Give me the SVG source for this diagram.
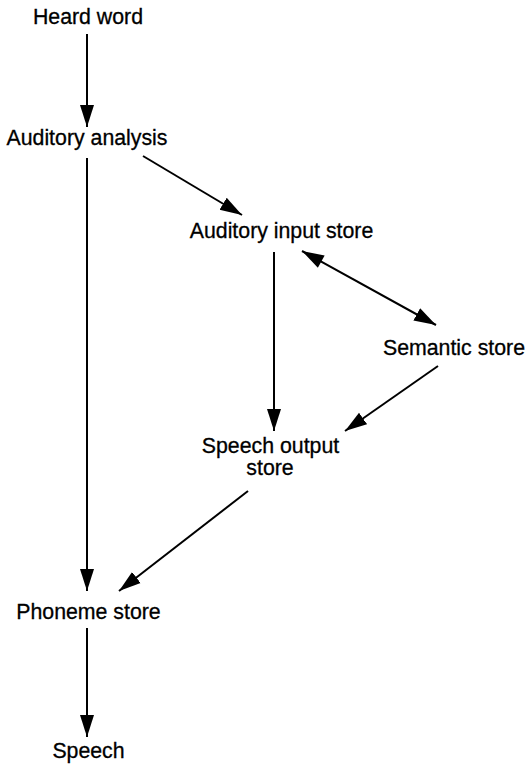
<svg xmlns="http://www.w3.org/2000/svg" width="528" height="764" viewBox="0 0 528 764">
<style>
  text { font-family: "Liberation Sans", Arial, sans-serif; font-size: 21.3px; fill: #000; stroke: #000; stroke-width: 0.3; text-anchor: middle; }
  .edge { stroke: #000; stroke-width: 2; fill: none; }
</style>
<defs>
  <marker id="ah" markerUnits="userSpaceOnUse" markerWidth="24" markerHeight="16" viewBox="0 0 24 16" refX="22" refY="8" orient="auto">
    <path d="M0,1 L22,8 L0,15 Z" fill="#000"/>
  </marker>
  <marker id="ahs" markerUnits="userSpaceOnUse" markerWidth="24" markerHeight="16" viewBox="0 0 24 16" refX="0" refY="8" orient="auto">
    <path d="M22,1 L0,8 L22,15 Z" fill="#000"/>
  </marker>
</defs>
<rect width="528" height="764" fill="#fff"/>
<g id="edges">
  <line class="edge" x1="87" y1="34" x2="87" y2="127" marker-end="url(#ah)"/>
  <line class="edge" x1="87" y1="158" x2="87" y2="591" marker-end="url(#ah)"/>
  <line class="edge" x1="143" y1="156" x2="242" y2="215" marker-end="url(#ah)"/>
  <line class="edge" x1="274" y1="252" x2="274" y2="431" marker-end="url(#ah)"/>
  <line class="edge" x1="302" y1="251" x2="436" y2="325" marker-start="url(#ahs)" marker-end="url(#ah)"/>
  <line class="edge" x1="438" y1="366" x2="345" y2="431" marker-end="url(#ah)"/>
  <line class="edge" x1="248" y1="491" x2="119" y2="591" marker-end="url(#ah)"/>
  <line class="edge" x1="87" y1="628" x2="87" y2="737" marker-end="url(#ah)"/>
</g>
<g id="heard-word"><text x="88" y="24">Heard word</text></g>
<g id="auditory-analysis"><text x="87" y="145">Auditory analysis</text></g>
<g id="auditory-input-store"><text x="281.5" y="238">Auditory input store</text></g>
<g id="semantic-store"><text x="454" y="355">Semantic store</text></g>
<g id="speech-output-store"><text x="270.5" y="453">Speech output</text><text x="270" y="475">store</text></g>
<g id="phoneme-store"><text x="88.5" y="619">Phoneme store</text></g>
<g id="speech"><text x="88.5" y="758">Speech</text></g>
</svg>
